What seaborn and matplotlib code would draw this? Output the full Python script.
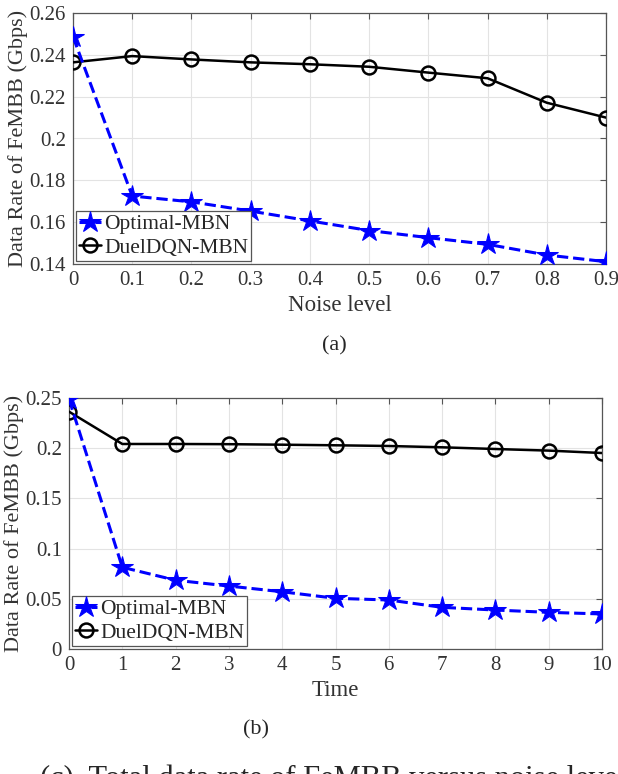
import matplotlib
matplotlib.use("Agg")
import matplotlib.pyplot as plt
import seaborn as sns
import numpy as np
import pandas as pd

# data
noise_level = [0, 0.1, 0.2, 0.3, 0.4, 0.5, 0.6, 0.7, 0.8, 0.9]
optimal_noise = [0.2487, 0.1725, 0.1697, 0.1653, 0.1606, 0.1560, 0.1526, 0.1494, 0.1443, 0.1411]
duel_noise = [0.2364, 0.2394, 0.2378, 0.2364, 0.2355, 0.2343, 0.2315, 0.2288, 0.2171, 0.2100]

time_steps = [0, 1, 2, 3, 4, 5, 6, 7, 8, 9, 10]
optimal_time = [0.2490, 0.0814, 0.0685, 0.0627, 0.0570, 0.0505, 0.0488, 0.0415, 0.0388, 0.0365, 0.0349]
duel_time = [0.2364, 0.2042, 0.2042, 0.2040, 0.2035, 0.2029, 0.2022, 0.2009, 0.1992, 0.1976, 0.1952]

sns.set_style("white")
plt.rcParams['font.family'] = ['Liberation Serif', 'DejaVu Serif']

fig = plt.figure(figsize=(6.18, 7.74), dpi=100)
W, H = 618.0, 774.0
ax1 = fig.add_axes([73 / W, 1 - 264 / H, (606 - 73) / W, (264 - 13) / H])
ax2 = fig.add_axes([69 / W, 1 - 649 / H, (602 - 69) / W, (649 - 398) / H])


def draw(ax, x, opt, duel):
    sns.lineplot(x=x, y=opt, ax=ax, color='#0000ff', marker='*', markersize=16,
                 markeredgecolor='#0000ff', linestyle='--', linewidth=2.2,
                 label='Optimal-MBN', zorder=4)
    sns.lineplot(x=x, y=duel, ax=ax, color='black', marker='o', markersize=10,
                 markerfacecolor='none', markeredgecolor='black', markeredgewidth=1.8,
                 linewidth=1.8, label='DuelDQN-MBN', zorder=3)
    ax.grid(True, color='#e3e3e3', linewidth=0.8)
    for s in ax.spines.values():
        s.set_color('#555555')
        s.set_linewidth(0.9)
    ax.tick_params(direction='in', length=4, width=0.8, color='#555555',
                   top=True, right=True, labelsize=15, labelcolor='#333333', pad=5)
    ax.set_ylabel('Data Rate of FeMBB (Gbps)', fontsize=16, color='#333333', labelpad=1)
    leg = ax.legend(loc='lower left', fontsize=15.5, handlelength=1.0, handletextpad=0.15,
                    borderpad=0.15, labelspacing=0.15, borderaxespad=0.15,
                    fancybox=False, framealpha=1, edgecolor='#555555')
    leg.get_frame().set_linewidth(0.9)


draw(ax1, noise_level, optimal_noise, duel_noise)
ax1.set_xlim(0, 0.9)
ax1.set_ylim(0.14, 0.26)
ax1.set_xticks(noise_level)
ax1.set_xticklabels(['0', '0.1', '0.2', '0.3', '0.4', '0.5', '0.6', '0.7', '0.8', '0.9'])
ax1.set_yticks([0.14, 0.16, 0.18, 0.2, 0.22, 0.24, 0.26])
ax1.set_yticklabels(['0.14', '0.16', '0.18', '0.2', '0.22', '0.24', '0.26'])
ax1.set_xlabel('Noise level', fontsize=16.5, color='#333333', labelpad=4)

draw(ax2, time_steps, optimal_time, duel_time)
ax2.set_xlim(0, 10)
ax2.set_ylim(0, 0.25)
ax2.set_xticks(time_steps)
ax2.set_yticks([0, 0.05, 0.1, 0.15, 0.2, 0.25])
ax2.set_yticklabels(['0', '0.05', '0.1', '0.15', '0.2', '0.25'])
ax2.set_xlabel('Time', fontsize=16.5, color='#333333', labelpad=4)

fig.text(334 / W, 1 - 346 / H, '(a)', ha='center', va='center', fontsize=16)
fig.text(256 / W, 1 - 730 / H, '(b)', ha='center', va='center', fontsize=16)
# caption of the page, cut at the bottom edge
fig.text(40 / W, 1 - 765 / H, '(c)  Total data rate of FeMBB versus noise level',
         ha='left', va='top', fontsize=22)

fig.savefig('out.png', dpi=100)
